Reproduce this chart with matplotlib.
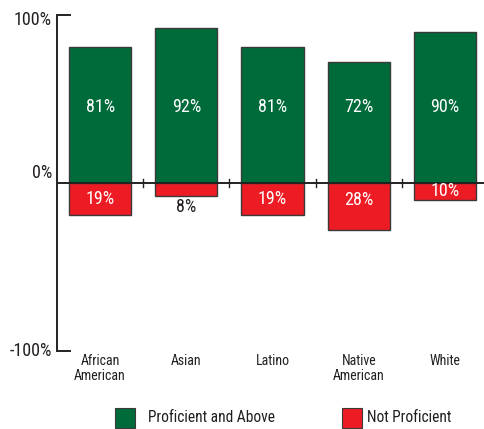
import matplotlib
matplotlib.use("Agg")
import matplotlib.pyplot as plt
from matplotlib.patches import Rectangle
import matplotlib.transforms as mtransforms

categories = ["African\nAmerican", "Asian", "Latino", "Native\nAmerican", "White"]
proficient = [81, 92, 81, 72, 90]
not_proficient = [19, 8, 19, 28, 10]
ytick_vals = [100, 0, -100]
ytick_labels = ["100%", "0%", "-100%"]

plt.rcParams["font.family"] = ["Roboto Condensed", "DejaVu Sans"]

GREEN = "#006B3A"
RED = "#ED1C24"
EDGE = "#3a3a3a"
TXT = "#231F20"

fig = plt.figure(figsize=(4.85, 4.29), dpi=100)
ax = fig.add_axes([57/485, 1-351/429, (488-57)/485, (351-15)/429])
x = list(range(len(categories)))
ax.bar(x, proficient, width=0.72, color=GREEN, edgecolor=EDGE, linewidth=1, zorder=2)
ax.bar(x, [-v for v in not_proficient], width=0.72, color=RED, edgecolor=EDGE, linewidth=1, zorder=2)
ax.set_xlim(-0.5, 4.5)
ax.set_ylim(-100, 100)
ax.axhline(0, color="#222222", lw=1.4, zorder=3)
for s in ["top", "right", "bottom"]:
    ax.spines[s].set_visible(False)
ax.spines["left"].set_color("#222222")
ax.spines["left"].set_linewidth(1.4)
ax.set_yticks([100, -100])
ax.set_yticklabels([])
ax.tick_params(axis="y", direction="in", length=10, width=1.4, color="#222222")
ax.set_xticks([])

# tick crosses on zero line between bars
for i in range(len(categories) - 1):
    ax.plot([i + 0.5, i + 0.5], [-2.5, 2.5], color="#222222", lw=1, zorder=3, clip_on=False)

trans = mtransforms.blended_transform_factory(ax.transAxes, ax.transData)
offs = {100: -3, 0: 6, -100: 0}
for v, lab in zip(ytick_vals, ytick_labels):
    ax.text(-0.012, v + offs[v], lab, transform=trans, ha="right", va="center",
            fontsize=13, color=TXT)

for i, (p, n) in enumerate(zip(proficient, not_proficient)):
    ax.text(i, 45.5, f"{p}%", ha="center", va="center", color="white",
            fontsize=13, zorder=4)
    if n >= 10:
        ax.text(i, -min(10, n / 2), f"{n}%", ha="center", va="center", color="white",
                fontsize=13, zorder=4)
    else:
        ax.text(i, -n - 6, f"{n}%", ha="center", va="center", color=TXT, fontsize=13, zorder=4)
    ax.text(i, -101.5, categories[i], ha="center", va="top", color=TXT, fontsize=10,
            linespacing=1.1)

# legend
fig.patches.append(Rectangle((115/485, 1-428/429), 20/485, 20/429, transform=fig.transFigure,
                             facecolor=GREEN, edgecolor=EDGE, lw=0.8))
fig.text(148/485, 1-418/429, "Proficient and Above", ha="left", va="center", color=TXT, fontsize=11.2)
fig.patches.append(Rectangle((342/485, 1-428/429), 20/485, 20/429, transform=fig.transFigure,
                             facecolor=RED, edgecolor=EDGE, lw=0.8))
fig.text(367/485, 1-418/429, "Not Proficient", ha="left", va="center", color=TXT, fontsize=11.2)

fig.savefig("out.png", dpi=100)
